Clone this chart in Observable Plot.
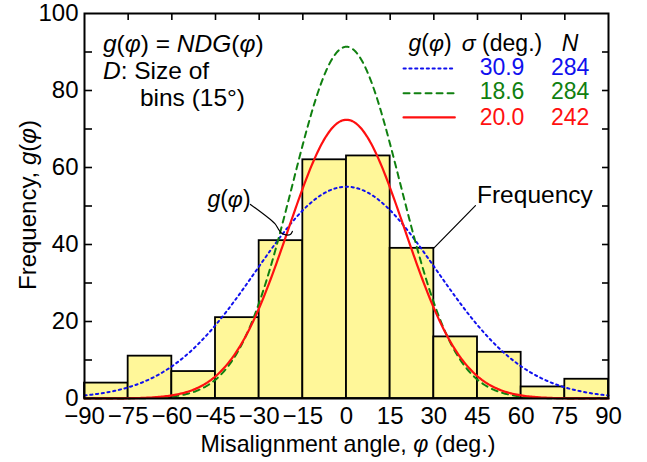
<!DOCTYPE html>
<html>
<head>
<meta charset="utf-8">
<script src="https://cdn.jsdelivr.net/npm/d3@7"></script>
<script src="https://cdn.jsdelivr.net/npm/@observablehq/plot@0.6"></script>
<style>
  html, body { margin: 0; padding: 0; background: white; }
  #chart { width: 647px; height: 462px; }
  text { font-family: "Liberation Sans", Arial, sans-serif; }
</style>
</head>
<body>
<div id="chart"></div>
<script>
// ---- data ----
const binStarts = [-90, -75, -60, -45, -30, -15, 0, 15, 30, 45, 60, 75];
const binWidth = 15;                 // D, size of bins (deg.)
const counts = [4, 11, 7, 21, 41, 62, 63, 39, 16, 12, 3, 5];
const seriesNames = ["blue", "green", "red"];
const sigmas = [30.9, 18.6, 20.0];   // σ (deg.)
const Ns = [284, 284, 242];          // N
const seriesColors = ["#1010ee", "#108010", "#ff1010"];
const seriesDash = ["2.2,3.6", "6,5", null];
const xTicks = [-90, -75, -60, -45, -30, -15, 0, 15, 30, 45, 60, 75, 90];
const yLabelTicks = [0, 20, 40, 60, 80, 100];
const yMinorTicks = [10, 20, 30, 40, 50, 60, 70, 80, 90];
const topTicks = [-75, -60, -45, -30, -15, 0, 15, 30, 45, 60, 75];

const W = 647, H = 462, mL = 84, mR = 39, mT = 13, mB = 64;
const pw = W - mL - mR, ph = H - mT - mB;

const bars = binStarts.map((s, i) => ({x1: s, x2: s + binWidth, count: counts[i]}));

// g(φ) = N·D·G(φ), G = normal density with mean 0 and σ from the legend
const phis = d3.range(-90, 90.001, 0.5);
const curves = [];
sigmas.forEach((s, k) => {
  for (const p of phis) {
    curves.push({series: seriesNames[k], phi: p,
      g: Ns[k] * binWidth / (s * Math.sqrt(2 * Math.PI)) * Math.exp(-p * p / (2 * s * s))});
  }
});

// legend sample positions (data units)
const legendRows = [85.7, 79.3, 73.0];
const legendLines = [];
seriesNames.forEach((n, k) => {
  legendLines.push({series: n, phi: 19.6, g: legendRows[k]});
  legendLines.push({series: n, phi: 37.2, g: legendRows[k]});
});

const gLeader = [[-33.0, 50.4], [-24.6, 45.4], [-23.4, 44.0], [-22.4, 43.0], [-20.8, 42.5], [-19.3, 42.6], [-18.6, 43.4]];
const fLeader = [[44.3, 50.1], [29.9, 39.0]];

const lineMarks = seriesNames.map((n, k) => [
  Plot.line(curves.filter(d => d.series === n), {x: "phi", y: "g", stroke: seriesColors[k],
    strokeWidth: k === 2 ? 2.2 : 2, strokeDasharray: seriesDash[k], curve: "linear"}),
  Plot.line(legendLines.filter(d => d.series === n), {x: "phi", y: "g", stroke: seriesColors[k],
    strokeWidth: k === 2 ? 2.2 : 2, strokeDasharray: seriesDash[k]})
]).flat();

const plot = Plot.plot({
  width: W, height: H,
  marginLeft: mL, marginRight: mR, marginTop: mT, marginBottom: mB,
  x: {domain: [-90, 90]},
  y: {domain: [0, 100]},
  style: {fontFamily: "Liberation Sans, Arial, sans-serif", background: "white", color: "black", overflow: "visible"},
  marks: [
    Plot.axisX(xTicks, {tickSize: 0, tickPadding: 8, fontSize: 24, label: null}),
    Plot.axisY(yLabelTicks, {tickSize: 0, tickPadding: 6, fontSize: 24, label: null}),
    Plot.tickY(yMinorTicks, {y: d => d, insetRight: pw - 8, stroke: "black", strokeWidth: 1.6}),
    Plot.tickY(yMinorTicks, {y: d => d, insetLeft: pw - 6, stroke: "black", strokeWidth: 1.6}),
    Plot.tickX(topTicks, {x: d => d, insetBottom: ph - 7, stroke: "black", strokeWidth: 1.6}),
    Plot.rectY(bars, {x1: "x1", x2: "x2", y: "count", fill: "#fff799", stroke: "black", strokeWidth: 1.8}),
    ...lineMarks,
    Plot.line(gLeader, {x: d => d[0], y: d => d[1], stroke: "black", strokeWidth: 1.2, curve: "catmull-rom"}),
    Plot.line(fLeader, {x: d => d[0], y: d => d[1], stroke: "black", strokeWidth: 1.2}),
    Plot.frame({stroke: "black", strokeWidth: 2})
  ]
});

document.getElementById("chart").appendChild(plot);

// ---- rich text annotations (italic parts), placed through the plot's scales ----
const sx = plot.scale("x"), sy = plot.scale("y");
const svg = d3.select(plot);
const FONT = "Liberation Sans, Arial, sans-serif";

function rich(parts, x, y, opts = {}) {
  const t = svg.append("text")
    .attr("x", x).attr("y", y)
    .attr("font-family", FONT)
    .attr("font-size", opts.size || 24)
    .attr("fill", opts.fill || "black")
    .attr("text-anchor", opts.anchor || "start");
  if (opts.rotate) t.attr("transform", `rotate(${opts.rotate},${x},${y})`);
  for (const [s, it] of parts) {
    t.append("tspan").attr("font-style", it ? "italic" : "normal").text(s);
  }
  return t;
}

// axis titles
rich([["Misalignment angle, ", false], ["φ", true], [" (deg.)", false]], mL + pw / 2 + 2, 452, {anchor: "middle", size: 23.2});
rich([["Frequency, ", false], ["g", true], ["(", false], ["φ", true], [")", false]], 36, 205, {anchor: "middle", rotate: -90});

// top-left note
rich([["g", true], ["(", false], ["φ", true], [") = ", false], ["NDG", true], ["(", false], ["φ", true], [")", false]], sx.apply(-83.5), sy.apply(89.9), {size: 24.5});
rich([["D", true], [": Size of", false]], sx.apply(-83.5), sy.apply(82.9), {size: 24.5});
rich([["bins (15°)", false]], sx.apply(-70.8), sy.apply(75.8), {size: 24.5});

// legend table
rich([["g", true], ["(", false], ["φ", true], [")", false]], sx.apply(28.9), sy.apply(90.1), {anchor: "middle", size: 23});
rich([["σ", true], [" (deg.)", false]], sx.apply(53.6), sy.apply(90.1), {anchor: "middle", size: 23});
rich([["N", true]], sx.apply(77.0), sy.apply(90.1), {anchor: "middle", size: 23});
const rowBase = [83.9, 77.7, 70.9];
sigmas.forEach((s, k) => {
  rich([[s.toFixed(1), false]], sx.apply(53.6), sy.apply(rowBase[k]), {anchor: "middle", fill: seriesColors[k], size: 23});
  rich([[String(Ns[k]), false]], sx.apply(77.0), sy.apply(rowBase[k]), {anchor: "middle", fill: seriesColors[k], size: 23});
});

// curve labels
rich([["g", true], ["(", false], ["φ", true], [")", false]], sx.apply(-40.2), sy.apply(49.6), {anchor: "middle", size: 23});
rich([["Frequency", false]], sx.apply(45.0), sy.apply(50.6), {size: 24.5});
</script>
</body>
</html>
